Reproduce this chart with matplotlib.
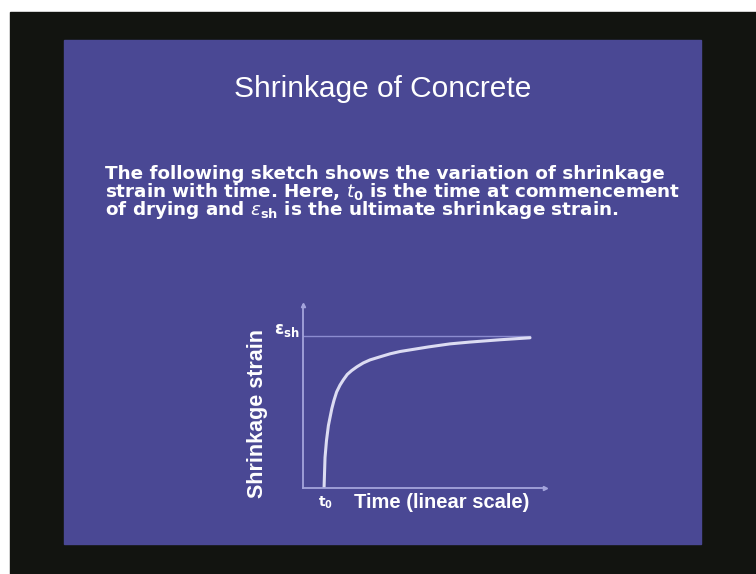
import matplotlib

matplotlib.use("Agg")
import matplotlib.pyplot as plt
from matplotlib.patches import Rectangle

# Curve: time (arbitrary linear units) and strain as a
# fraction of the ultimate shrinkage strain eps_sh.
time_vals = [0.87, 0.91, 0.97, 1.05, 1.19, 1.28, 1.39, 1.53, 1.67, 1.83, 2.01, 2.23, 2.49,
             2.77, 3.18, 3.60, 4.01, 5.18, 6.07, 6.90, 8.14, 9.38]
strain_vals = [0.0, 0.20, 0.31, 0.41, 0.52, 0.575, 0.63, 0.675, 0.71, 0.745, 0.77, 0.795,
               0.82, 0.84, 0.86, 0.88, 0.895, 0.925, 0.945, 0.957, 0.972, 0.985]
eps_ultimate = 1.0
t_max = 10.0
strain_max = 1.2

title = "Shrinkage of Concrete"
para_lines = [
    "The following sketch shows the variation of shrinkage",
    r"strain with time. Here, $\mathit{t}_\mathbf{0}$ is the time at commencement",
    r"of drying and $\mathit{\varepsilon}_{\mathbf{sh}}$ is the ultimate shrinkage strain.",
]
ylabel = "Shrinkage strain"
xlabel = "Time (linear scale)"

W, H = 756, 574
BLUE = "#4a4894"
BLACK = "#121410"
AXIS = "#a4a4dc"
CURVE = "#dcdcf2"


def fx(px):
    return px / W


def fy(py):
    return 1 - py / H


fig = plt.figure(figsize=(W / 100, H / 100), dpi=100)
fig.patch.set_facecolor("white")

# slide frame: black screen, blue slide (kept below the sketch axes)
fig.patches.append(Rectangle((fx(10), 0), 1 - fx(10), fy(12), transform=fig.transFigure,
                             color=BLACK, zorder=-3))
fig.patches.append(Rectangle((fx(64), fy(544)), fx(701) - fx(64), fy(40) - fy(544),
                             transform=fig.transFigure, color=BLUE, zorder=-2))

fig.text(fx(383), fy(89), title, color="white", fontsize=21.5, ha="center", va="center",
         family="Liberation Sans")

# one text block so the three lines share a tight line spacing
fig.text(fx(105), fy(193), "\n".join(para_lines), color="white", fontsize=13.2,
         fontweight="bold", ha="left", va="center", multialignment="left",
         linespacing=0.85, family="DejaVu Sans")

# sketch axes
ax = fig.add_axes([fx(303), fy(488), fx(545) - fx(303), fy(305) - fy(488)])
ax.set_facecolor("none")
ax.set_xlim(0, t_max)
ax.set_ylim(0, strain_max)
for side in ("top", "right"):
    ax.spines[side].set_visible(False)
for side in ("left", "bottom"):
    ax.spines[side].set_color(AXIS)
    ax.spines[side].set_linewidth(1.3)
ax.set_xticks([])
ax.set_yticks([])
ax.plot(1, 0, ">", color=AXIS, ms=3, transform=ax.transAxes, clip_on=False)
ax.plot(0, 1, "^", color=AXIS, ms=3, transform=ax.transAxes, clip_on=False)

ax.axhline(eps_ultimate, xmin=0, xmax=time_vals[-1] / t_max, color="#8c8cd0", lw=1)
ax.plot(time_vals, strain_vals, color=CURVE, lw=2.2, solid_capstyle="round",
        solid_joinstyle="round")

fig.text(fx(287), fy(330), r"$\mathbf{\varepsilon}_{\mathbf{sh}}$", color="white", fontsize=12,
         ha="center", va="center")
fig.text(fx(326), fy(503), r"$\mathbf{t}_\mathbf{0}$", color="white", fontsize=10,
         ha="center", va="center")
fig.text(fx(257), fy(413), ylabel, color="white", fontsize=15.5, fontweight="bold", rotation=90,
         ha="center", va="center", family="Liberation Sans")
fig.text(fx(442), fy(503), xlabel, color="white", fontsize=14.5, fontweight="bold",
         ha="center", va="center", family="Liberation Sans")

fig.savefig("out.png", dpi=100)
plt.close(fig)
